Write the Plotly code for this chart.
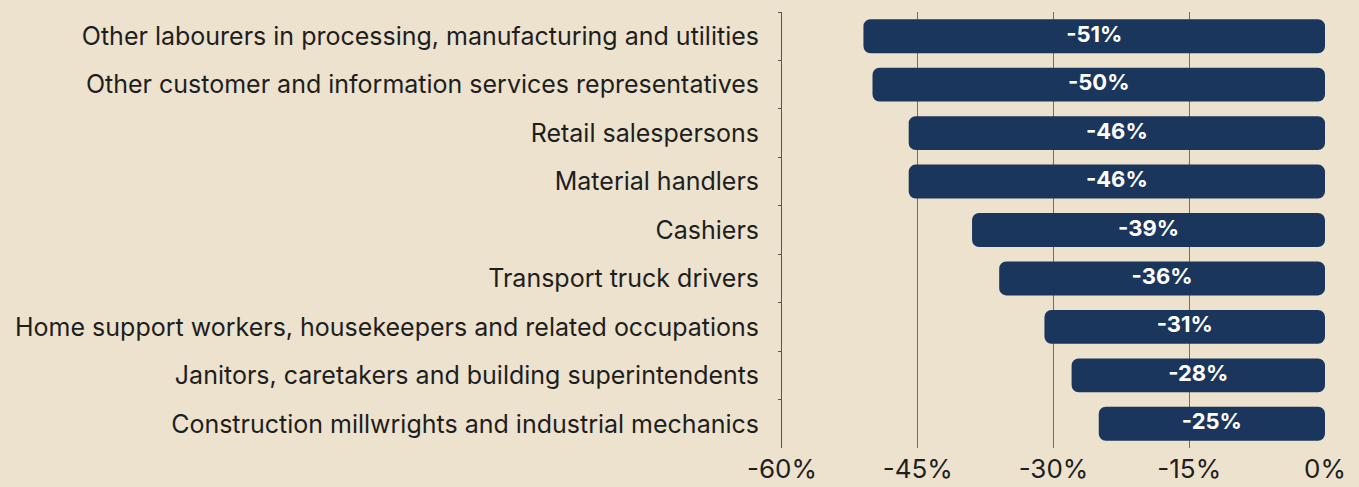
import plotly.graph_objects as go

categories = [
    "Other labourers in processing, manufacturing and utilities",
    "Other customer and information services representatives",
    "Retail salespersons",
    "Material handlers",
    "Cashiers",
    "Transport truck drivers",
    "Home support workers, housekeepers and related occupations",
    "Janitors, caretakers and building superintendents",
    "Construction millwrights and industrial mechanics",
]
values = [-51, -50, -46, -46, -39, -36, -31, -28, -25]
x_ticks = [-60, -45, -30, -15, 0]
x_tick_labels = ["-60%", "-45%", "-30%", "-15%", "0%"]

BG = "#EDE2CD"
BAR = "#1B365D"
TXT = "#1E1E1E"
FONT = "Inter"

fig = go.Figure()
# bar drawn from each value back to zero (base set -> both ends rounded)
fig.add_trace(go.Bar(
    x=[-v for v in values], base=values,
    y=categories, orientation="h",
    marker=dict(color=BAR, line=dict(width=0)),
    hoverinfo="skip",
))
# value labels centred on each bar
fig.add_trace(go.Scatter(
    x=[v / 2 for v in values], y=categories, mode="text",
    text=[f"{v}%" for v in values],
    textposition="middle center",
    textfont=dict(family=FONT, size=22, color="white", weight="bold"),
    hoverinfo="skip", cliponaxis=False,
))

fig.update_layout(
    width=1359, height=487,
    paper_bgcolor=BG, plot_bgcolor=BG,
    margin=dict(l=782, r=34, t=12, b=39, autoexpand=False),
    bargap=0.3,
    barcornerradius=7,
    showlegend=False,
    font=dict(family=FONT, color=TXT),
)
fig.update_xaxes(
    range=[-60, 0],
    tickvals=x_ticks, ticktext=x_tick_labels,
    showgrid=True, gridcolor="#6E6E6E", gridwidth=1,
    zeroline=False, showline=False,
    tickfont=dict(family=FONT, size=26, color=TXT),
    ticks="", ticklabelstandoff=3,
)
fig.update_yaxes(
    autorange="reversed",
    showgrid=False, showline=True, linecolor="#555555", linewidth=1,
    ticks="outside", tickson="boundaries", ticklen=3, tickcolor="#555555",
    tickfont=dict(family=FONT, size=25, color=TXT),
    ticklabelstandoff=17,
)

fig.write_html(
    "out.html",
    config={"displayModeBar": False},
    post_script="document.body.style.margin='0';document.body.style.background='%s';" % BG,
)
